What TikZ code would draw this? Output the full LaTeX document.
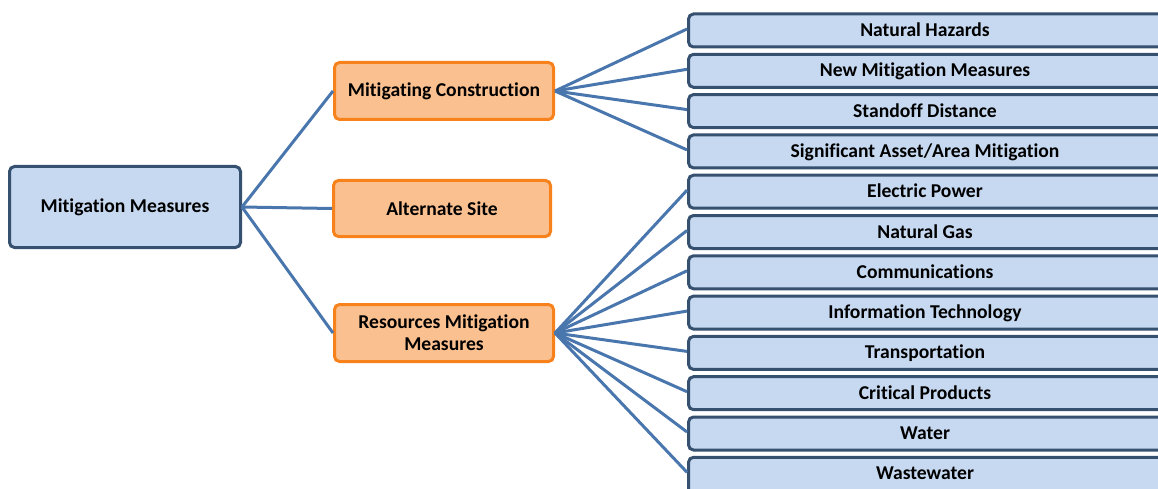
\documentclass[tikz,border=0pt]{standalone}
\usepackage{fontspec}
\setmainfont{Carlito}[Ligatures={NoCommon}]
\definecolor{bfill}{HTML}{C6D9F1}
\definecolor{bline}{HTML}{36506F}
\definecolor{ofill}{HTML}{FAC090}
\definecolor{oline}{HTML}{F7821B}
\definecolor{conn}{HTML}{4A76AE}
\tikzset{
  txt/.style={font=\fontsize{19.6}{22}\selectfont\bfseries, align=center, inner sep=0pt},
  box/.style={txt, draw=bline, fill=bfill, line width=3pt, rounded corners=5pt},
  obox/.style={txt, draw=oline, fill=ofill, line width=3pt, rounded corners=5pt},
  leaf/.style={box, anchor=base, text height=22.5pt, text depth=10.5pt},
  conline/.style={draw=conn, line width=3pt}
}
\newcommand{\leaftext}[1]{\makebox[500pt][l]{\makebox[473pt]{#1}}}
\begin{document}
\begin{tikzpicture}[x=1pt,y=1pt]
\useasboundingbox (0,0) rectangle (1158,-489);
\node[box, minimum width=231pt, minimum height=81pt] (mm) at (125,-207) {Mitigation Measures};
\node[obox, minimum width=219pt, minimum height=57pt] (mc) at (444,-91) {Mitigating Construction};
\node[obox, minimum width=217pt, minimum height=56pt] (as) at (442,-208.5) {Alternate Site};
\node[obox, minimum width=219pt, minimum height=57pt] (rm) at (444,-333) {Resources Mitigation\\Measures};
\foreach \i/\t in {1/Natural Hazards, 2/New Mitigation Measures, 3/Standoff Distance, 4/Significant Asset\slash Area Mitigation, 5/Electric Power, 6/Natural Gas, 7/Communications, 8/Information Technology, 9/Transportation, 10/Critical Products, 11/Water}{
  \node[leaf] (r\i) at (938.5,{-36.5-40.3*(\i-1)}) {\leaftext{\t}};
}
\node[leaf, text depth=22pt] (r12) at (938.5,{-36.5-40.3*11}) {\leaftext{Wastewater}};
\foreach \n in {mc,as,rm}{ \draw[conline] (mm.east) -- (\n.west); }
\foreach \i in {1,...,4}{ \draw[conline] (mc.east) -- ([yshift=-16.5pt]r\i.north west); }
\foreach \i in {5,...,12}{ \draw[conline] (rm.east) -- ([yshift=-16.5pt]r\i.north west); }
\end{tikzpicture}
\end{document}
